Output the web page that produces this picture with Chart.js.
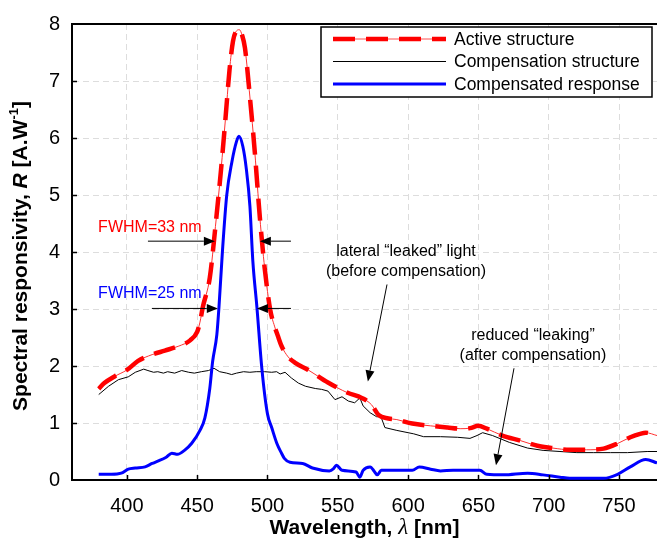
<!DOCTYPE html>
<html lang="en">
<head>
<meta charset="UTF-8">
<title>Spectral responsivity</title>
<script src="https://cdn.jsdelivr.net/npm/chart.js@4.4.0/dist/chart.umd.min.js"></script>
<style>
  html, body { margin: 0; padding: 0; background: #fff; }
</style>
</head>
<body>
<canvas id="myChart" width="657" height="547"></canvas>
<script>
// tick labels and series names
const xTicks = [400, 450, 500, 550, 600, 650, 700, 750];
const seriesNames = ['Active structure', 'Compensation structure', 'Compensated response'];

// Active structure (red dashed)
const activeNm = [380, 384, 391.5, 400, 408, 418, 427, 437, 445, 450, 452, 454, 459, 463, 467, 470, 473, 475.5, 478, 480, 482, 484, 487.5, 491, 494.6, 498, 502, 505, 507.5, 510, 514.7, 520, 529, 543, 557, 567, 574, 579, 586, 592, 603, 616, 628, 637, 644, 650, 656, 667, 680, 692, 703, 715, 727, 739, 749, 758, 765, 769, 777];
const activeR = [1.6, 1.7, 1.82, 1.93, 2.09, 2.2, 2.27, 2.35, 2.45, 2.6, 2.77, 3.03, 3.55, 4.45, 5.45, 6.3, 7.19, 7.7, 7.88, 7.9, 7.8, 7.58, 6.72, 5.75, 4.6, 3.72, 2.98, 2.7, 2.52, 2.35, 2.16, 2.05, 1.93, 1.71, 1.53, 1.44, 1.32, 1.14, 1.08, 1.06, 0.99, 0.95, 0.92, 0.9, 0.91, 0.95, 0.9, 0.78, 0.69, 0.6, 0.56, 0.53, 0.53, 0.55, 0.64, 0.75, 0.81, 0.83, 0.78];

// Compensation structure (black)
const compNm = [380, 381, 387, 394, 401, 406, 412, 415, 419, 422, 426, 429, 434, 439, 444, 448, 453, 458, 462, 466, 471, 474.5, 478, 483, 487.5, 492, 498, 503, 506.5, 509, 512.5, 517, 522, 527, 534, 538.5, 543, 548, 553, 557.5, 562, 565.7, 568, 573, 577.6, 580.7, 583.5, 592, 604, 611, 623, 635, 644, 649, 653, 660, 672, 685, 696, 708, 720, 732, 744, 756, 770, 777];
const compR = [1.5, 1.52, 1.645, 1.76, 1.81, 1.89, 1.945, 1.92, 1.89, 1.9, 1.875, 1.9, 1.875, 1.92, 1.89, 1.875, 1.9, 1.92, 1.96, 1.9, 1.875, 1.85, 1.875, 1.9, 1.89, 1.9, 1.9, 1.89, 1.9, 1.86, 1.89, 1.79, 1.7, 1.645, 1.605, 1.59, 1.56, 1.41, 1.46, 1.385, 1.355, 1.44, 1.3, 1.18, 1.11, 1.11, 0.92, 0.87, 0.81, 0.76, 0.76, 0.75, 0.73, 0.78, 0.83, 0.78, 0.66, 0.56, 0.52, 0.5, 0.48, 0.48, 0.48, 0.48, 0.5, 0.5];

// Compensated response (blue)
const respNm = [380, 389, 396, 401, 406, 413, 418, 422, 428, 432, 436, 441, 446, 452, 455.5, 459, 461, 464, 465.5, 468, 471, 474.7, 478, 479.7, 482.5, 485, 487.5, 489.6, 492.5, 496, 500, 503, 506.7, 510, 512, 516, 525, 532, 544, 547, 549, 553, 563, 565.7, 568, 573, 576, 578, 581, 592, 603, 608, 616, 623, 632, 651, 656, 668, 685, 696, 708, 715, 732, 739, 749, 758, 769, 777];
const respR = [0.1, 0.1, 0.12, 0.19, 0.21, 0.23, 0.29, 0.33, 0.4, 0.47, 0.45, 0.52, 0.64, 0.87, 1.09, 1.61, 2.08, 2.55, 3.03, 4.02, 4.99, 5.58, 5.94, 6.03, 5.85, 5.45, 4.81, 3.84, 3.03, 1.96, 1.16, 0.92, 0.64, 0.47, 0.38, 0.31, 0.29, 0.21, 0.16, 0.2, 0.26, 0.17, 0.14, 0.05, 0.17, 0.23, 0.15, 0.09, 0.17, 0.17, 0.17, 0.23, 0.19, 0.16, 0.17, 0.17, 0.1, 0.09, 0.12, 0.09, 0.05, 0.03, 0.03, 0.03, 0.1, 0.23, 0.36, 0.3];

const toPoints = (xs, ys) => xs.map((x, i) => ({ x: x, y: ys[i] }));

// annotation texts, placed in data units
const notes = [
  { lines: ['FWHM=33 nm'], x: 416.4, y: 4.43, color: '#ff0000' },
  { lines: ['FWHM=25 nm'], x: 416.4, y: 3.27, color: '#0000ff' },
  { lines: ['lateral \u201cleaked\u201d light', '(before compensation)'], x: 598.5, y: 4.0, color: '#000' },
  { lines: ['reduced \u201cleaking\u201d', '(after compensation)'], x: 688.8, y: 2.53, color: '#000' }
];
const arrows = [
  [415, 4.19, 462.6, 4.19], [516.7, 4.19, 494.6, 4.19],
  [417.8, 3.01, 464.7, 3.01], [516.7, 3.01, 492.5, 3.01],
  [585, 3.43, 571.4, 1.73],
  [675.3, 1.96, 662.5, 0.26]
];

const FONT = '"Liberation Sans", Arial, sans-serif';

function line(ctx, x1, y1, x2, y2) {
  ctx.beginPath();
  ctx.moveTo(x1, y1);
  ctx.lineTo(x2, y2);
  ctx.stroke();
}

function arrow(ctx, x1, y1, x2, y2) {
  const ang = Math.atan2(y2 - y1, x2 - x1);
  const len = 11, half = 4.5;
  const bx = x2 - len * Math.cos(ang), by = y2 - len * Math.sin(ang);
  line(ctx, x1, y1, bx, by);
  ctx.beginPath();
  ctx.moveTo(x2, y2);
  ctx.lineTo(bx + half * Math.sin(ang), by - half * Math.cos(ang));
  ctx.lineTo(bx - half * Math.sin(ang), by + half * Math.cos(ang));
  ctx.closePath();
  ctx.fill();
}

// draws a row of text pieces centred on 0,0 (pieces: [text, font, raise])
function pieces(ctx, parts) {
  let total = 0;
  parts.forEach(p => { ctx.font = p[1]; total += ctx.measureText(p[0]).width; });
  let cx = -total / 2;
  parts.forEach(p => {
    ctx.font = p[1];
    ctx.fillText(p[0], cx, -(p[2] || 0));
    cx += ctx.measureText(p[0]).width;
  });
}

const decor = {
  id: 'decor',
  afterDraw(chart) {
    const { ctx, chartArea: a, scales: { x, y } } = chart;
    ctx.save();
    ctx.strokeStyle = '#000';
    ctx.fillStyle = '#000';

    // top frame and inward ticks
    ctx.lineWidth = 2;
    line(ctx, a.left - 1, a.top, a.right, a.top);
    ctx.lineWidth = 1.5;
    xTicks.forEach(v => {
      const px = Math.round(x.getPixelForValue(v)) + 0.5;
      line(ctx, px, a.bottom, px, a.bottom - 5);
    });
    for (let v = 1; v < 8; v++) {
      const py = Math.round(y.getPixelForValue(v)) + 0.5;
      line(ctx, a.left, py, a.left + 5, py);
    }

    // arrows
    ctx.lineWidth = 1;
    arrows.forEach(r => arrow(ctx, x.getPixelForValue(r[0]), y.getPixelForValue(r[1]),
      x.getPixelForValue(r[2]), y.getPixelForValue(r[3])));

    // annotation text
    ctx.font = '16px ' + FONT;
    ctx.textAlign = 'center';
    ctx.textBaseline = 'middle';
    notes.forEach(n => {
      ctx.fillStyle = n.color;
      n.lines.forEach((t, i) => ctx.fillText(t, x.getPixelForValue(n.x), y.getPixelForValue(n.y) + i * 20));
    });

    // legend box
    const lx = 321, ly = 27, lw = 331, lh = 70;
    ctx.fillStyle = '#fff';
    ctx.fillRect(lx, ly, lw, lh);
    ctx.strokeStyle = '#000';
    ctx.lineWidth = 1.5;
    ctx.strokeRect(lx, ly, lw, lh);
    const legendSets = [0, 2, 3];
    ctx.font = '17.5px ' + FONT;
    ctx.textAlign = 'left';
    legendSets.forEach((di, i) => {
      const ds = chart.data.datasets[di];
      const ry = 39 + i * 22.5;
      if (di === 0) {
        ctx.strokeStyle = '#ff5050';
        ctx.lineWidth = 1;
        line(ctx, 333, ry, 446, ry);
      }
      ctx.strokeStyle = ds.borderColor;
      ctx.lineWidth = ds.borderWidth;
      ctx.setLineDash(ds.borderDash || []);
      line(ctx, 333, ry, 446, ry);
      ctx.setLineDash([]);
      ctx.fillStyle = '#000';
      ctx.fillText(seriesNames[i], 454, ry + 1);
    });

    // axis titles
    ctx.fillStyle = '#000';
    ctx.textAlign = 'left';
    ctx.textBaseline = 'middle';
    ctx.save();
    ctx.translate((a.left + a.right) / 2, 528);
    pieces(ctx, [
      ['Wavelength, ', 'bold 21px ' + FONT],
      ['\u03bb', 'italic 23px "Liberation Serif", serif'],
      [' [nm]', 'bold 21px ' + FONT]
    ]);
    ctx.restore();
    ctx.save();
    ctx.translate(21, (a.top + a.bottom) / 2 + 4);
    ctx.rotate(-Math.PI / 2);
    pieces(ctx, [
      ['Spectral responsivity, ', 'bold 21px ' + FONT],
      ['R', 'bold italic 21px ' + FONT],
      [' [A.W', 'bold 21px ' + FONT],
      ['-1', 'bold 13px ' + FONT, 7],
      [']', 'bold 21px ' + FONT]
    ]);
    ctx.restore();
    ctx.restore();
  }
};

const ctx = document.getElementById('myChart').getContext('2d');
const myChart = new Chart(ctx, {
  type: 'line',
  data: {
    datasets: [{
      label: seriesNames[0],
      data: toPoints(activeNm, activeR),
      borderColor: '#ff0000',
      borderWidth: 4.5,
      borderDash: [22, 11],
      cubicInterpolationMode: 'monotone',
      order: 1
    }, {
      label: seriesNames[0] + ' (line)',
      data: toPoints(activeNm, activeR),
      borderColor: '#ff3030',
      borderWidth: 1,
      cubicInterpolationMode: 'monotone',
      order: 2
    }, {
      label: seriesNames[1],
      data: toPoints(compNm, compR),
      borderColor: '#000000',
      borderWidth: 1,
      order: 3
    }, {
      label: seriesNames[2],
      data: toPoints(respNm, respR),
      borderColor: '#0000ff',
      borderWidth: 3,
      cubicInterpolationMode: 'monotone',
      order: 0
    }]
  },
  options: {
    responsive: false,
    animation: false,
    devicePixelRatio: 1,
    elements: { point: { radius: 0 }, line: { tension: 0, fill: false } },
    layout: { padding: { top: 18, right: 0, left: 0, bottom: 0 } },
    plugins: { legend: { display: false }, tooltip: { enabled: false } },
    scales: {
      x: {
        type: 'linear',
        min: 361,
        max: 777,
        afterBuildTicks: s => { s.ticks = xTicks.map(v => ({ value: v })); },
        afterFit: s => { s.height = 67; },
        ticks: { color: '#000', font: { size: 20, family: FONT }, padding: 14, maxRotation: 0 },
        grid: { color: '#dddddd', lineWidth: 1, drawTicks: false },
        border: { color: '#000', width: 2, dash: [6, 4] }
      },
      y: {
        min: 0,
        max: 8,
        afterFit: s => { s.width = 72; },
        ticks: { stepSize: 1, color: '#000', font: { size: 20, family: FONT }, padding: 12 },
        grid: { color: '#dddddd', lineWidth: 1, drawTicks: false },
        border: { color: '#000', width: 2, dash: [6, 4] }
      }
    }
  },
  plugins: [decor]
});
</script>
</body>
</html>
